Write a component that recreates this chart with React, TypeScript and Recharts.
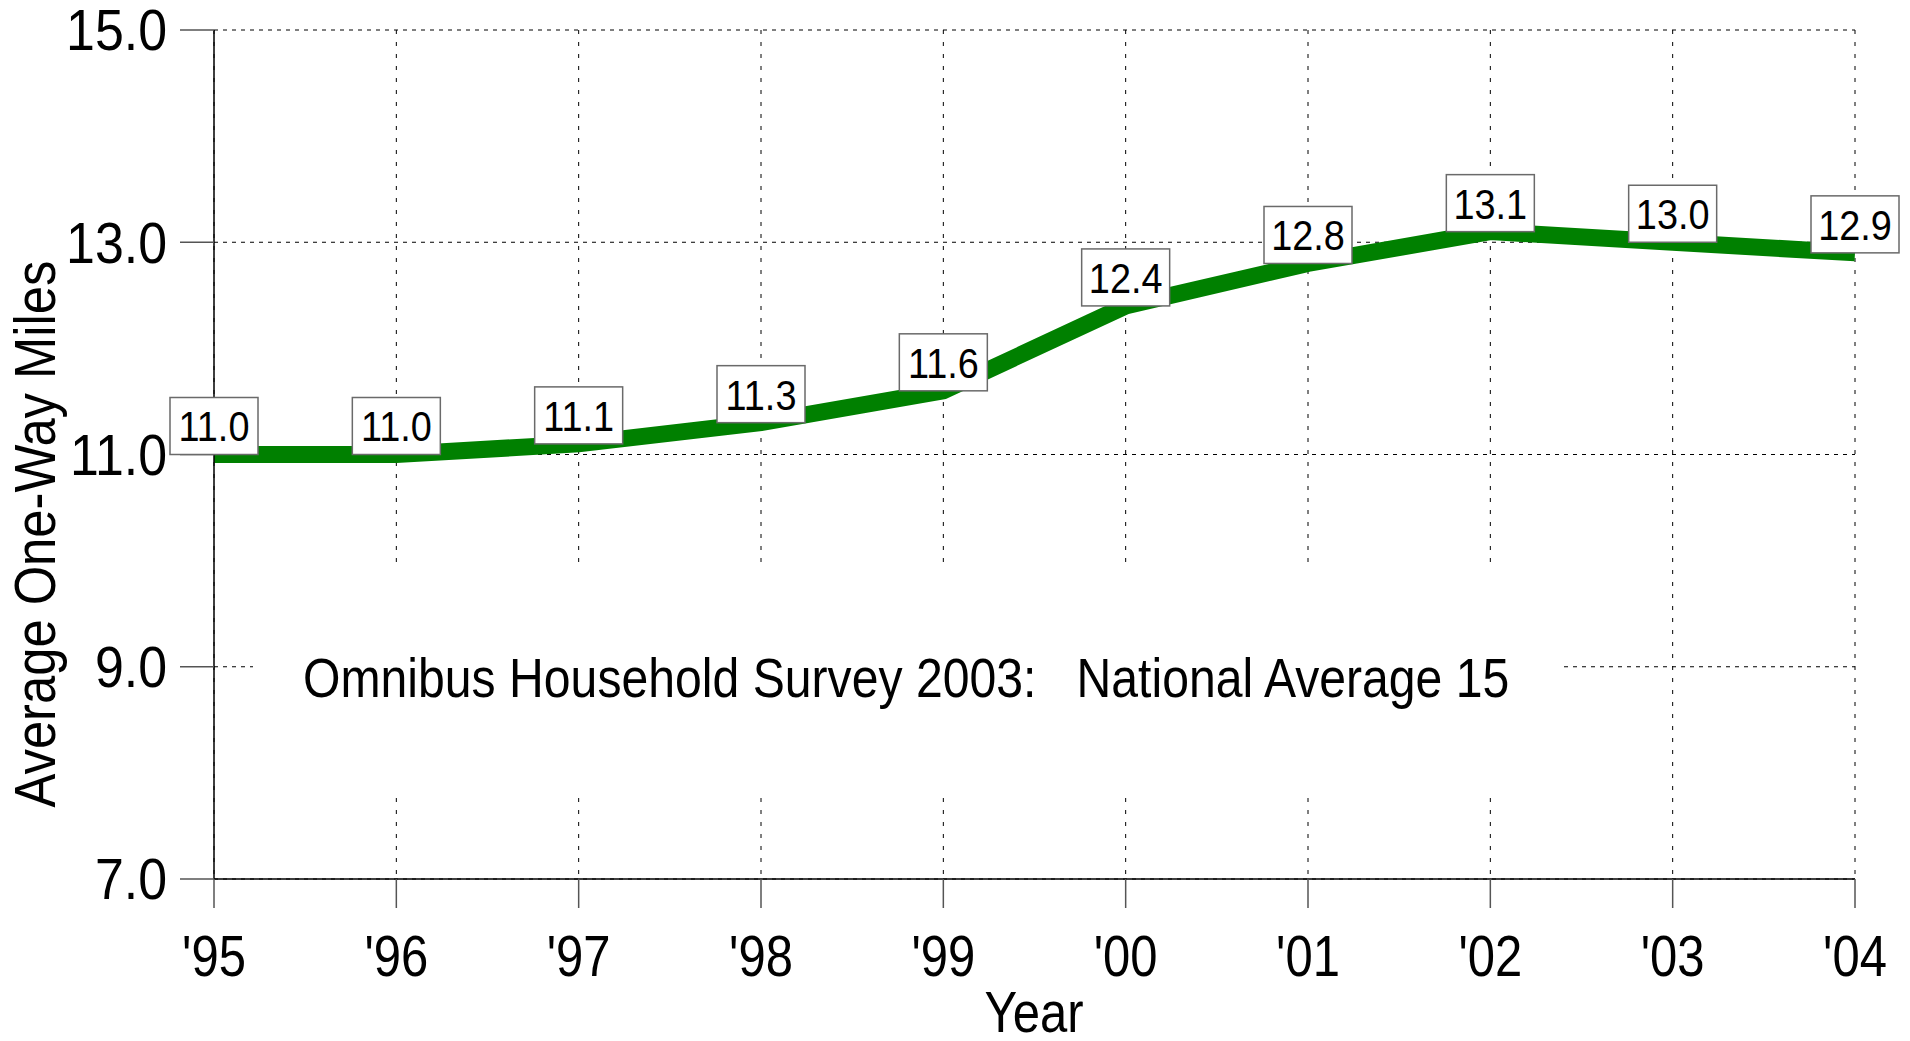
import { CartesianGrid, LabelList, Line, LineChart, XAxis, YAxis } from "recharts";

// survey years and average one-way commute miles
const YEARS = ["'95", "'96", "'97", "'98", "'99", "'00", "'01", "'02", "'03", "'04"];
const MILES = [11.0, 11.0, 11.1, 11.3, 11.6, 12.4, 12.8, 13.1, 13.0, 12.9];
const Y_TICKS = [7, 9, 11, 13, 15];

const Y_TITLE = "Average One-Way Miles";
const X_TITLE = "Year";
const NOTE = "Omnibus Household Survey 2003:   National Average 15";

const FONT = "'Liberation Sans', Arial, sans-serif";

const rows = YEARS.map((year, i) => ({ year, miles: MILES[i] }));

// original uses a narrow face, so squeeze Liberation Sans horizontally
function NarrowText({ x, y, size, anchor = "middle", rotate = 0, squeeze = 0.86, children }: any) {
  return (
    <text
      transform={`translate(${x},${y}) rotate(${rotate}) scale(${squeeze},1)`}
      textAnchor={anchor}
      dominantBaseline="central"
      fontSize={size}
      fontFamily={FONT}
      fill="#000"
      style={{ whiteSpace: "pre" }}
    >
      {children}
    </text>
  );
}

function YTick({ x, y, payload }: any) {
  return (
    <NarrowText x={x} y={y + 1} size={57} anchor="end" squeeze={0.91}>
      {Number(payload.value).toFixed(1)}
    </NarrowText>
  );
}

function XTick({ x, y, payload }: any) {
  return (
    <NarrowText x={x} y={y} size={57}>
      {payload.value}
    </NarrowText>
  );
}

function DataTag({ x, y, value }: any) {
  return (
    <g>
      <rect x={x - 44} y={y - 57} width={88} height={57} fill="#fff" stroke="#6a6a6a" strokeWidth={1.5} />
      <NarrowText x={x} y={y - 28} size={43} squeeze={0.88}>
        {Number(value).toFixed(1)}
      </NarrowText>
    </g>
  );
}

export default function App() {
  return (
    <div style={{ position: "absolute", left: 0, top: 0, width: 1910, height: 1041, background: "#fff" }}>
      <LineChart width={1910} height={1041} data={rows} margin={{ top: 30, right: 55, bottom: 0, left: 0 }}>
        <CartesianGrid vertical={false} stroke="#000" strokeDasharray="4 5" />
        <CartesianGrid horizontal={false} stroke="#000" strokeDasharray="4 8" />
        <rect x={253} y={564} width={1310} height={228} fill="#fff" />
        <NarrowText x={303} y={678} size={56} anchor="start">
          {NOTE}
        </NarrowText>
        <XAxis
          dataKey="year"
          height={162}
          interval={0}
          padding={{ left: 0, right: 0 }}
          tickSize={29}
          tickMargin={48}
          axisLine={{ stroke: "#000", strokeWidth: 1.5 }}
          tickLine={{ stroke: "#555", strokeWidth: 1.5 }}
          tick={(p: any) => <XTick {...p} />}
        />
        <YAxis
          type="number"
          domain={[7, 15]}
          ticks={Y_TICKS}
          interval={0}
          width={214}
          tickSize={34}
          tickMargin={13}
          axisLine={{ stroke: "#000", strokeWidth: 1.5 }}
          tickLine={{ stroke: "#555", strokeWidth: 1.5 }}
          tick={(p: any) => <YTick {...p} />}
        />
        <Line
          dataKey="miles"
          stroke="#008000"
          strokeWidth={17}
          dot={false}
          activeDot={false}
          isAnimationActive={false}
        >
          <LabelList dataKey="miles" content={(p: any) => <DataTag {...p} />} />
        </Line>
        <NarrowText x={1034} y={1012} size={57}>
          {X_TITLE}
        </NarrowText>
        <NarrowText x={35} y={534} size={57} rotate={-90} squeeze={0.89}>
          {Y_TITLE}
        </NarrowText>
      </LineChart>
    </div>
  );
}
